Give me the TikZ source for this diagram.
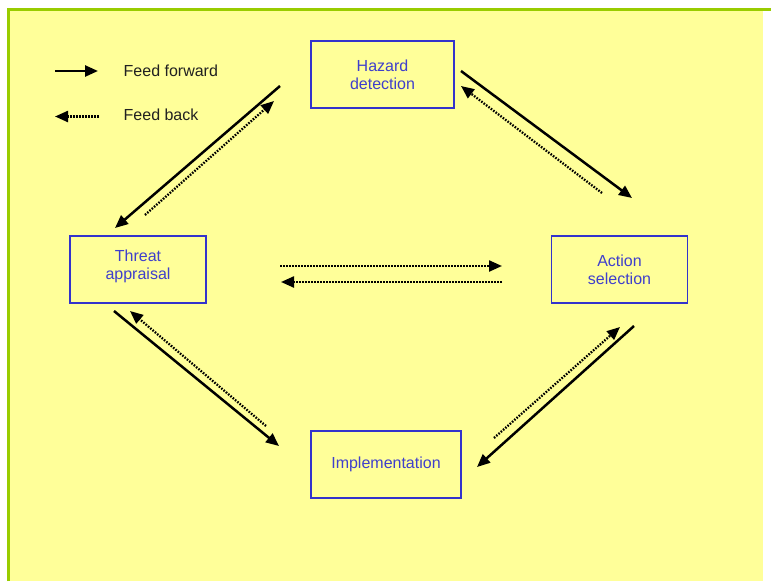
\documentclass[tikz,border=0pt]{standalone}
\usepackage{fontspec}
\setmainfont{Liberation Sans}
\usetikzlibrary{arrows.meta}
\definecolor{pale}{HTML}{FFFF99}
\definecolor{lime}{HTML}{99CC00}
\definecolor{boxblue}{HTML}{3333CC}
\definecolor{txtblue}{HTML}{3F3FCC}
\tikzset{
  stage/.style={draw=boxblue, line width=1.3pt, text=txtblue, align=center,
    inner sep=0pt, minimum height=67pt, font=\fontsize{16}{18.3}\selectfont},
  fwd/.style={line width=2.5pt, -{Triangle[length=13pt,width=11pt]}},
  back/.style={line width=2.3pt, dash pattern=on 1.6pt off 1.4pt,
    -{Triangle[length=13pt,width=11pt]}},
  legtext/.style={anchor=base west, inner sep=0pt, text=black!87,
    font=\fontsize{16}{18}\selectfont}
}
\begin{document}
\begin{tikzpicture}[x=1pt,y=-1pt]
    \useasboundingbox (0,0) rectangle (771,581);
    \fill[pale] (8.5,9.5) rectangle (763,581);
    \draw[lime, line width=3pt] (8.5,581) -- (8.5,9.5) -- (771,9.5);

    %stages
    \node[stage, minimum width=143pt] (hazard) at (382.5,74.5) {Hazard\\detection};
    \node[stage, minimum width=136pt, text depth=9pt] (threat) at (138,269.5) {Threat\\appraisal};
    \node[stage, minimum width=136pt] (action) at (619.5,269.5) {Action\\selection};
    \node[stage, minimum width=150pt] (implement) at (386,464.5) {Implementation};

    %legend
    \coordinate (ffA) at (55,71);   \coordinate (ffB) at (98,71);
    \coordinate (fbA) at (99,116.5); \coordinate (fbB) at (55,116.5);
    \draw[fwd] (ffA) -- (ffB);
    \draw[back] (fbA) -- (fbB);
    \node[legtext] (fftext) at (123.5,76) {Feed forward};
    \node[legtext] (fbtext) at (123.5,120.5) {Feed back};

    %arrow ends
    \coordinate (hzT) at (280,86);   \coordinate (thH) at (115,228);
    \coordinate (thD) at (145,215);  \coordinate (hzD) at (274,101);
    \coordinate (hzA) at (461,71);   \coordinate (acH) at (632,198);
    \coordinate (acD) at (602,193);  \coordinate (hzB) at (461,86);
    \coordinate (thR) at (280,266);  \coordinate (acL) at (502,266);
    \coordinate (acR) at (502,282);  \coordinate (thL) at (281,282);
    \coordinate (thI) at (114,311);  \coordinate (imT) at (279,446);
    \coordinate (imD) at (266,426);  \coordinate (thU) at (130,311);
    \coordinate (acI) at (634,326);  \coordinate (imA) at (477,467);
    \coordinate (imU) at (494,438);  \coordinate (acU) at (620,327);

    %feed forward
    \foreach \a/\b in {hzT/thH, hzA/acH, thI/imT, acI/imA}
      \draw[fwd] (\a) -- (\b);
    %feed back
    \foreach \a/\b in {thD/hzD, acD/hzB, thR/acL, acR/thL, imD/thU, imU/acU}
      \draw[back] (\a) -- (\b);
\end{tikzpicture}
\end{document}
